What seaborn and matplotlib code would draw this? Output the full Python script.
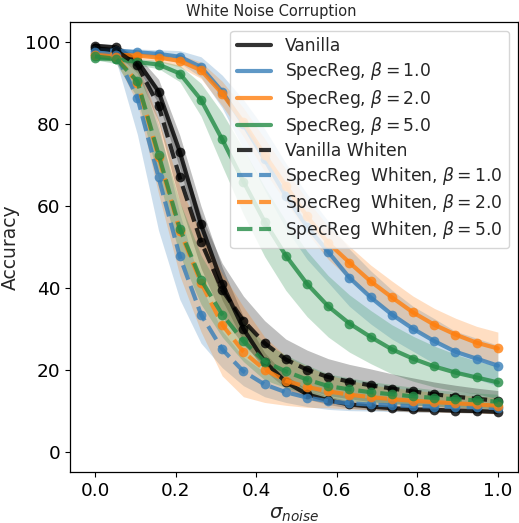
import numpy as np
import pandas as pd
import matplotlib
matplotlib.use("Agg")
import matplotlib.pyplot as plt
import seaborn as sns

sigma = np.linspace(0, 1, 20)

labels = ["Vanilla", r"SpecReg, $\beta = 1.0$", r"SpecReg, $\beta = 2.0$", r"SpecReg, $\beta = 5.0$",
          "Vanilla Whiten", r"SpecReg  Whiten, $\beta = 1.0$", r"SpecReg  Whiten, $\beta = 2.0$",
          r"SpecReg  Whiten, $\beta = 5.0$"]
colors = ["black", "#377eb8", "#ff7f0e", "#238b45", "black", "#377eb8", "#ff7f0e", "#238b45"]
styles = ["-", "-", "-", "-", "--", "--", "--", "--"]

vanilla = [99.2, 98.8, 95.4, 88.0, 73.3, 55.5, 41.0, 30.0, 22.0, 17.0, 14.0, 12.5, 11.5, 11.0, 10.6, 10.3, 10.2, 10.0, 9.9, 9.7]
vanilla_std = [0.5, 0.6, 1.5, 3.0, 4.0, 4.5, 4.0, 3.0, 2.2, 1.6, 1.2, 1.0, 0.9, 0.8, 0.7, 0.6, 0.6, 0.5, 0.5, 0.5]
spec1 = [98.2, 98.0, 97.6, 97.2, 96.5, 94.0, 88.0, 80.0, 71.4, 62.5, 55.0, 48.8, 42.5, 37.7, 33.5, 30.0, 27.0, 24.4, 22.7, 21.0]
spec1_std = [0.5, 0.6, 0.8, 1.0, 1.5, 2.5, 4.0, 6.0, 7.5, 8.0, 8.0, 7.5, 7.0, 6.5, 6.0, 5.5, 5.5, 5.0, 5.0, 5.0]
spec2 = [97.3, 97.0, 96.8, 96.3, 95.5, 93.2, 87.5, 80.5, 72.5, 65.0, 57.5, 51.0, 46.2, 41.6, 37.7, 34.0, 31.0, 28.6, 26.6, 25.2]
spec2_std = [0.5, 0.6, 0.8, 1.0, 1.5, 2.0, 3.0, 3.5, 4.0, 4.0, 4.0, 4.0, 4.0, 4.0, 4.0, 4.0, 4.0, 4.0, 4.0, 4.0]
spec5 = [96.1, 96.0, 95.2, 94.6, 92.4, 86.0, 76.3, 66.0, 56.2, 47.9, 41.0, 35.5, 31.3, 28.0, 25.0, 22.7, 20.8, 19.3, 18.1, 16.9]
spec5_std = [0.5, 0.6, 0.8, 1.0, 2.0, 4.0, 6.5, 8.0, 8.5, 8.5, 8.0, 7.5, 7.0, 6.5, 6.0, 5.5, 5.0, 4.5, 4.0, 4.0]
vwhite = [98.6, 98.0, 94.5, 84.5, 67.0, 51.3, 39.5, 32.0, 26.5, 22.5, 20.0, 18.2, 17.1, 16.2, 15.4, 14.7, 14.0, 13.4, 12.9, 12.4]
vwhite_std = [0.6, 0.8, 2.0, 4.0, 6.0, 6.5, 6.5, 6.0, 5.5, 5.0, 4.8, 4.5, 4.2, 4.0, 3.6, 3.3, 3.0, 2.8, 2.6, 2.5]
swhite1 = [97.6, 97.0, 86.5, 67.0, 47.7, 33.5, 25.0, 19.6, 16.4, 14.5, 13.2, 12.3, 11.8, 11.5, 11.3, 11.1, 11.0, 10.9, 10.8, 10.6]
swhite1_std = [1.0, 1.5, 9.0, 13.0, 10.5, 7.0, 4.5, 3.5, 3.0, 2.5, 2.2, 2.0, 1.8, 1.6, 1.5, 1.4, 1.3, 1.2, 1.2, 1.2]
swhite2 = [97.0, 96.5, 90.2, 72.0, 54.0, 41.3, 31.0, 24.4, 20.0, 17.3, 15.8, 14.7, 13.9, 13.3, 12.8, 12.4, 12.1, 11.8, 11.5, 11.2]
swhite2_std = [0.8, 1.2, 5.0, 9.0, 11.0, 12.0, 12.5, 11.0, 8.0, 6.0, 5.0, 4.0, 3.5, 3.0, 2.8, 2.6, 2.4, 2.2, 2.0, 2.0]
swhite5 = [96.6, 96.0, 90.5, 72.6, 54.5, 42.0, 33.5, 27.0, 22.0, 19.6, 17.6, 16.0, 15.2, 14.5, 14.0, 13.5, 13.1, 12.8, 12.5, 12.2]
swhite5_std = [0.8, 1.2, 4.0, 6.0, 6.5, 6.0, 5.5, 5.0, 4.5, 4.0, 3.5, 3.0, 2.8, 2.6, 2.4, 2.2, 2.0, 1.9, 1.8, 1.8]

means = [vanilla, spec1, spec2, spec5, vwhite, swhite1, swhite2, swhite5]
stds = [vanilla_std, spec1_std, spec2_std, spec5_std, vwhite_std, swhite1_std, swhite2_std, swhite5_std]

sns.set_style("ticks")
plt.rcParams['font.family'] = ['DejaVu Sans']
plt.rcParams['axes.edgecolor'] = 'black'
plt.rcParams['xtick.color'] = 'black'
plt.rcParams['ytick.color'] = 'black'

fig, ax = plt.subplots(figsize=(5.19, 5.23), dpi=100)
fig.subplots_adjust(left=70/519, right=518/519, top=1-22/523, bottom=1-472/523)

for lab, c, ls, m, s in zip(labels, colors, styles, means, stds):
    m = np.array(m); s = np.array(s)
    ax.fill_between(sigma, m - s, m + s, color=c, alpha=0.25, linewidth=0)
    df = pd.DataFrame({"x": sigma, "y": m})
    sns.lineplot(data=df, x="x", y="y", ax=ax, color=c, linestyle=ls, linewidth=3,
                 marker="o", markersize=7, markeredgewidth=0, alpha=0.8, label=lab)

ax.set_xlim(-0.062, 1.05)
ax.set_ylim(-5, 105)
ax.set_xticks([0.0, 0.2, 0.4, 0.6, 0.8, 1.0])
ax.set_yticks([0, 20, 40, 60, 80, 100])
ax.tick_params(labelsize=13.3, width=0.8)
for sp in ax.spines.values():
    sp.set_linewidth(0.9)
ax.set_xlabel(r"$\sigma_{noise}$", fontsize=14)
ax.set_ylabel("Accuracy", fontsize=13.5)
ax.set_title("White Noise Corruption", fontsize=10.5, x=0.449, pad=4)

leg = ax.legend(loc="upper right", fontsize=12.3, framealpha=0.8, labelspacing=0.3)
for h in leg.get_lines():
    h.set_marker("")
    h.set_linewidth(3)

fig.savefig("out.png", dpi=100)
